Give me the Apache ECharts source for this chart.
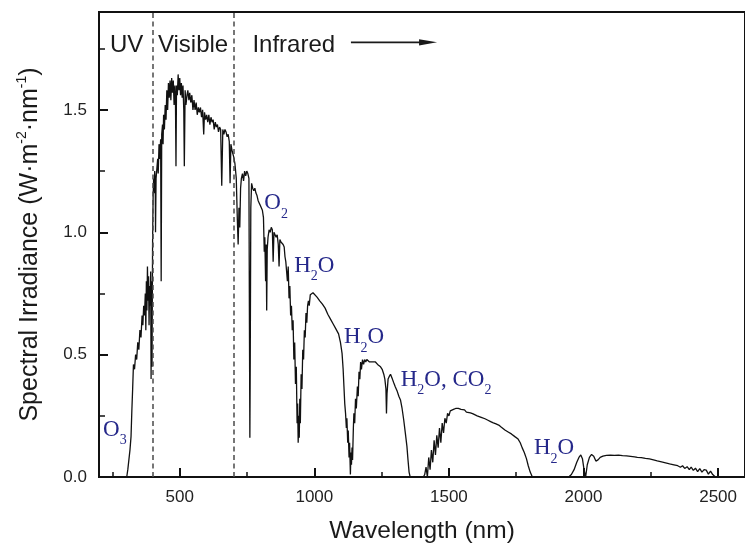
<!DOCTYPE html>
<html><head><meta charset="utf-8">
<script src="https://cdn.jsdelivr.net/npm/echarts@6/dist/echarts.min.js"></script>
<style>html,body{margin:0;padding:0;background:#fff}#c{width:745px;height:549px}</style>
</head><body><div id="c"></div>
<script>
// ---- data ----
const wavelength = [
295,303,307,311,315,319,322,325,328,332,336,340,344,348,352,356,360,363,366,369,
372,374,376,378,380,382,384,386,388,390,392,393.5,395,397,399,401,403,405,407,409,
410,412,415,418,420,423,426,429,431,433,436,438,440,443,446,449,452,455,458,461,
464,467,470,473,476,479,482,484,486,488,491,494,497,500,503,506,509,512,515,517,
520,523,527,530,534,537,541,545,549,553,557,561,565,569,573,577,581,585,589,592,
596,600,604,608,612,616,620,624,628,632,636,640,644,648,652,656,660,664,668,672,
676,680,684,687,690,695,700,705,710,714,717,720,723,726,729,733,737,741,745,749,
753,757,759,760.5,762,764,767,771,775,779,783,787,791,795,799,803,807,811,814,816,
819,821,823,825,828,832,836,840,844,847,850,854,858,862,866,869,872,876,880,884,
888,891,894,897,900,903,906,909,912,915,918,921,924,927,930,933,936,938,940,942,
944,946,948,951,954,957,960,963,966,969,972,975,978,981,985,990,995,1000,1010,1020,
1030,1040,1050,1060,1070,1080,1090,1097,1103,1107,1110,1113,1116,1119,1121,1124,1126,1129,1131,1134,
1136,1138,1140,1142,1145,1147,1150,1153,1156,1160,1163,1166,1169,1172,1175,1179,1183,1187,1191,1195,
1200,1205,1210,1215,1220,1227,1235,1241,1246,1252,1258,1262,1266,1268,1270,1274,1278,1283,1290,1295,
1301,1308,1314,1320,1326,1332,1338,1344,1348,1352,1356,1405,1410,1415,1420,1425,1430,1435,1440,1445,
1450,1455,1460,1465,1470,1475,1480,1485,1490,1495,1500,1505,1510,1517,1525,1535,1545,1552,1558,1565,
1572,1580,1590,1597,1605,1612,1620,1627,1634,1645,1655,1665,1675,1685,1695,1708,1720,1732,1745,1757,
1765,1772,1780,1788,1795,1802,1810,1945,1955,1965,1975,1983,1990,1996,2002,2008,2014,2022,2030,2038,
2046,2054,2062,2072,2085,2100,2115,2130,2145,2160,2175,2190,2200,2215,2230,2245,2260,2274,2290,2305,
2320,2336,2350,2360,2368,2376,2385,2393,2400,2408,2416,2424,2432,2440,2448,2456,2464,2472,2480,2490
];
const irradiance = [
0,0,0.03,0.07,0.11,0.165,0.27,0.36,0.46,0.44,0.50,0.48,0.55,0.52,0.60,0.57,0.66,0.62,0.70,0.66,
0.75,0.60,0.80,0.68,0.86,0.72,0.82,0.62,0.78,0.70,0.84,0.40,0.80,0.45,0.95,1.14,1.22,1.16,1.25,1.20,
1.00,1.22,1.26,1.30,1.24,1.36,1.30,1.38,0.80,1.40,1.44,1.36,1.48,1.42,1.52,1.46,1.58,1.50,1.61,1.55,
1.62,1.54,1.63,1.57,1.62,1.52,1.60,1.55,1.27,1.60,1.56,1.645,1.58,1.63,1.56,1.61,1.55,1.60,1.50,1.27,
1.58,1.52,1.56,1.58,1.54,1.57,1.53,1.56,1.50,1.54,1.50,1.53,1.48,1.51,1.49,1.51,1.47,1.50,1.40,1.49,
1.46,1.48,1.45,1.48,1.44,1.47,1.45,1.46,1.42,1.45,1.43,1.44,1.41,1.43,1.42,1.19,1.42,1.40,1.42,1.41,
1.39,1.40,1.37,1.20,1.36,1.33,1.31,1.28,1.22,1.05,0.95,1.10,1.02,1.18,1.22,1.24,1.21,1.25,1.23,1.25,
1.24,1.22,0.60,0.16,0.50,1.10,1.20,1.18,1.17,1.18,1.16,1.15,1.13,1.12,1.11,1.10,1.09,1.06,0.92,0.98,
0.80,0.95,0.68,0.93,0.98,1.01,1.00,1.02,1.01,0.88,1.00,0.99,0.98,0.99,0.95,0.86,0.97,0.96,0.96,0.95,
0.94,0.90,0.88,0.84,0.80,0.86,0.73,0.78,0.66,0.70,0.60,0.64,0.48,0.55,0.38,0.45,0.22,0.30,0.14,0.25,
0.16,0.32,0.22,0.42,0.36,0.52,0.48,0.60,0.57,0.67,0.63,0.70,0.72,0.70,0.745,0.75,0.753,0.748,0.735,0.72,
0.706,0.69,0.665,0.645,0.625,0.605,0.585,0.55,0.505,0.44,0.37,0.30,0.26,0.20,0.24,0.14,0.19,0.08,0.14,0.01,
0.10,0.05,0.12,0.07,0.20,0.26,0.22,0.32,0.28,0.37,0.33,0.43,0.40,0.47,0.44,0.48,0.46,0.48,0.47,0.48,
0.475,0.47,0.475,0.47,0.472,0.47,0.46,0.455,0.45,0.44,0.42,0.40,0.36,0.26,0.34,0.40,0.41,0.42,0.40,0.385,
0.368,0.35,0.33,0.315,0.28,0.234,0.18,0.125,0.07,0.02,0,0,0.01,0.04,0.0,0.08,0.03,0.11,0.06,0.15,
0.09,0.17,0.12,0.20,0.14,0.22,0.18,0.24,0.22,0.26,0.25,0.27,0.265,0.276,0.28,0.28,0.276,0.27,0.274,0.265,
0.268,0.262,0.258,0.254,0.25,0.248,0.244,0.242,0.238,0.232,0.226,0.221,0.217,0.212,0.203,0.192,0.184,0.176,0.165,0.155,
0.14,0.12,0.10,0.075,0.045,0.02,0,0,0.01,0.03,0.06,0.08,0.09,0.075,0.03,0.0,0.05,0.08,0.092,0.085,
0.065,0.07,0.08,0.085,0.088,0.089,0.088,0.089,0.087,0.086,0.084,0.082,0.08,0.079,0.076,0.074,0.07,0.066,0.062,0.058,
0.054,0.05,0.046,0.04,0.046,0.035,0.042,0.03,0.04,0.027,0.036,0.022,0.034,0.02,0.03,0.028,0.012,0.024,0.01,0
];
const xTickValues = [500, 1000, 1500, 2000, 2500];
const xMinorTickValues = [250, 750, 1250, 1750, 2250];
const yTickValues = [0, 0.5, 1.0, 1.5];
const yMinorTickValues = [0.25, 0.75, 1.25, 1.75];
const regionBounds = [400, 700];
const regionNames = ['UV', 'Visible', 'Infrared'];
const regionNameAt = [[241, 1.765], [419, 1.765], [770, 1.765]];
const arrowFromTo = [[1136, 1.776], [1456, 1.776]];
const bandNames = ['O_3', 'O_2', 'H_2O', 'H_2O', 'H_2O, CO_2', 'H_2O'];
const bandNameAt = [[215, 0.193], [814, 1.118], [925, 0.863], [1110, 0.571], [1321, 0.396], [1816, 0.117]];

// ---- chart ----
const SANS = '"Liberation Sans", Arial, Helvetica, sans-serif';
const SERIF = '"Liberation Serif", "Times New Roman", serif';
const INK = '#1a1a1a';
const chart = echarts.init(document.getElementById('c'), null, {renderer: 'canvas'});
const option = {
  animation: false,
  backgroundColor: '#ffffff',
  grid: {left: 99, right: -3, top: 12, bottom: 68, show: true, borderColor: '#111', borderWidth: 2, backgroundColor: 'rgba(0,0,0,0)'},
  xAxis: [{
    type: 'value', min: 200, max: 2600, position: 'bottom',
    name: 'Wavelength (nm)', nameLocation: 'middle', nameGap: 42,
    nameTextStyle: {fontSize: 24.5, fontFamily: SANS, color: INK},
    axisLine: {show: true, onZero: false, lineStyle: {color: '#111', width: 2}},
    axisTick: {show: true, inside: true, length: 9, customValues: xTickValues, lineStyle: {color: '#111', width: 2}},
    axisLabel: {show: true, margin: 12, customValues: xTickValues, fontSize: 17, fontFamily: SANS, color: '#222',
      formatter: v => String(Math.round(v))},
    splitLine: {show: false}
  }, {
    type: 'value', min: 200, max: 2600, position: 'bottom',
    axisLine: {show: false, onZero: false}, axisLabel: {show: false}, splitLine: {show: false},
    axisTick: {show: true, inside: true, length: 5, customValues: xMinorTickValues, lineStyle: {color: '#111', width: 1.5}}
  }],
  yAxis: [{
    type: 'value', min: 0, max: 1.9, position: 'left',
    name: '{a|Spectral Irradiance (W·m}{s|-2}{a|·nm}{s|-1}{a|)}',
    nameLocation: 'middle', nameGap: 54, nameRotate: 90,
    nameTextStyle: {fontSize: 25, fontFamily: SANS, color: INK,
      rich: {a: {fontSize: 25, fontFamily: SANS, color: INK, lineHeight: 30},
             s: {fontSize: 14, fontFamily: SANS, color: INK, lineHeight: 14, verticalAlign: 'top'}}},
    axisLine: {show: true, onZero: false, lineStyle: {color: '#111', width: 2}},
    axisTick: {show: true, inside: true, length: 9, customValues: yTickValues, lineStyle: {color: '#111', width: 2}},
    axisLabel: {show: true, margin: 12, customValues: yTickValues, fontSize: 17, fontFamily: SANS, color: '#222',
      formatter: v => Number(v).toFixed(1)},
    splitLine: {show: false}
  }, {
    type: 'value', min: 0, max: 1.9, position: 'left',
    axisLine: {show: false, onZero: false}, axisLabel: {show: false}, splitLine: {show: false},
    axisTick: {show: true, inside: true, length: 6, customValues: yMinorTickValues, lineStyle: {color: '#111', width: 1.5}}
  }],
  series: [{
    type: 'line', xAxisIndex: 0, yAxisIndex: 0, silent: true,
    showSymbol: false, symbol: 'none',
    data: wavelength.map((w, i) => [w, irradiance[i]]),
    lineStyle: {color: '#111', width: 1.3},
    markLine: {
      silent: true, symbol: ['none', 'none'], label: {show: false},
      lineStyle: {color: '#4a4a4a', width: 1.5, type: [5, 3.5]},
      data: regionBounds.map(b => ({xAxis: b}))
    }
  }]
};
chart.setOption(option);

// ---- annotations placed through the chart's own scales ----
const ctx = document.createElement('canvas').getContext('2d');
const toPx = p => chart.convertToPixel({seriesIndex: 0}, p);
const graphics = [];
regionNames.forEach((t, i) => {
  const [px, py] = toPx(regionNameAt[i]);
  graphics.push({type: 'text', x: px, y: py, silent: true,
    style: {text: t, fontSize: 24, fontFamily: SANS, fill: INK, align: 'left', verticalAlign: 'middle'}});
});
(function () {
  const a = toPx(arrowFromTo[0]), b = toPx(arrowFromTo[1]);
  const head = 18, half = 3.2;
  graphics.push({type: 'line', silent: true, shape: {x1: a[0], y1: a[1], x2: b[0] - head + 2, y2: b[1]},
    style: {stroke: INK, lineWidth: 1.6}});
  graphics.push({type: 'polygon', silent: true,
    shape: {points: [[b[0] - head, b[1] - half], [b[0], b[1]], [b[0] - head, b[1] + half]]},
    style: {fill: INK}});
})();
function parseChem(s) {
  const segs = [];
  for (let i = 0; i < s.length; i++) {
    if (s[i] === '_') { segs.push({t: s[i + 1], sub: true}); i++; }
    else {
      const last = segs[segs.length - 1];
      if (last && !last.sub) last.t += s[i]; else segs.push({t: s[i], sub: false});
    }
  }
  return segs;
}
const CHEM_COLOR = '#25288a';
bandNames.forEach((s, i) => {
  const [px, py] = toPx(bandNameAt[i]);
  let x = px;
  parseChem(s).forEach(seg => {
    const fs = seg.sub ? 14 : 23;
    ctx.font = fs + 'px ' + SERIF;
    const w = ctx.measureText(seg.t).width;
    graphics.push({type: 'text', x: x, y: py + (seg.sub ? 10.7 : 0), silent: true,
      style: {text: seg.t, fontSize: fs, fontFamily: SERIF, fill: CHEM_COLOR, align: 'left', verticalAlign: 'middle'}});
    x += w;
  });
});
chart.setOption({graphic: graphics});
</script>
</body></html>
